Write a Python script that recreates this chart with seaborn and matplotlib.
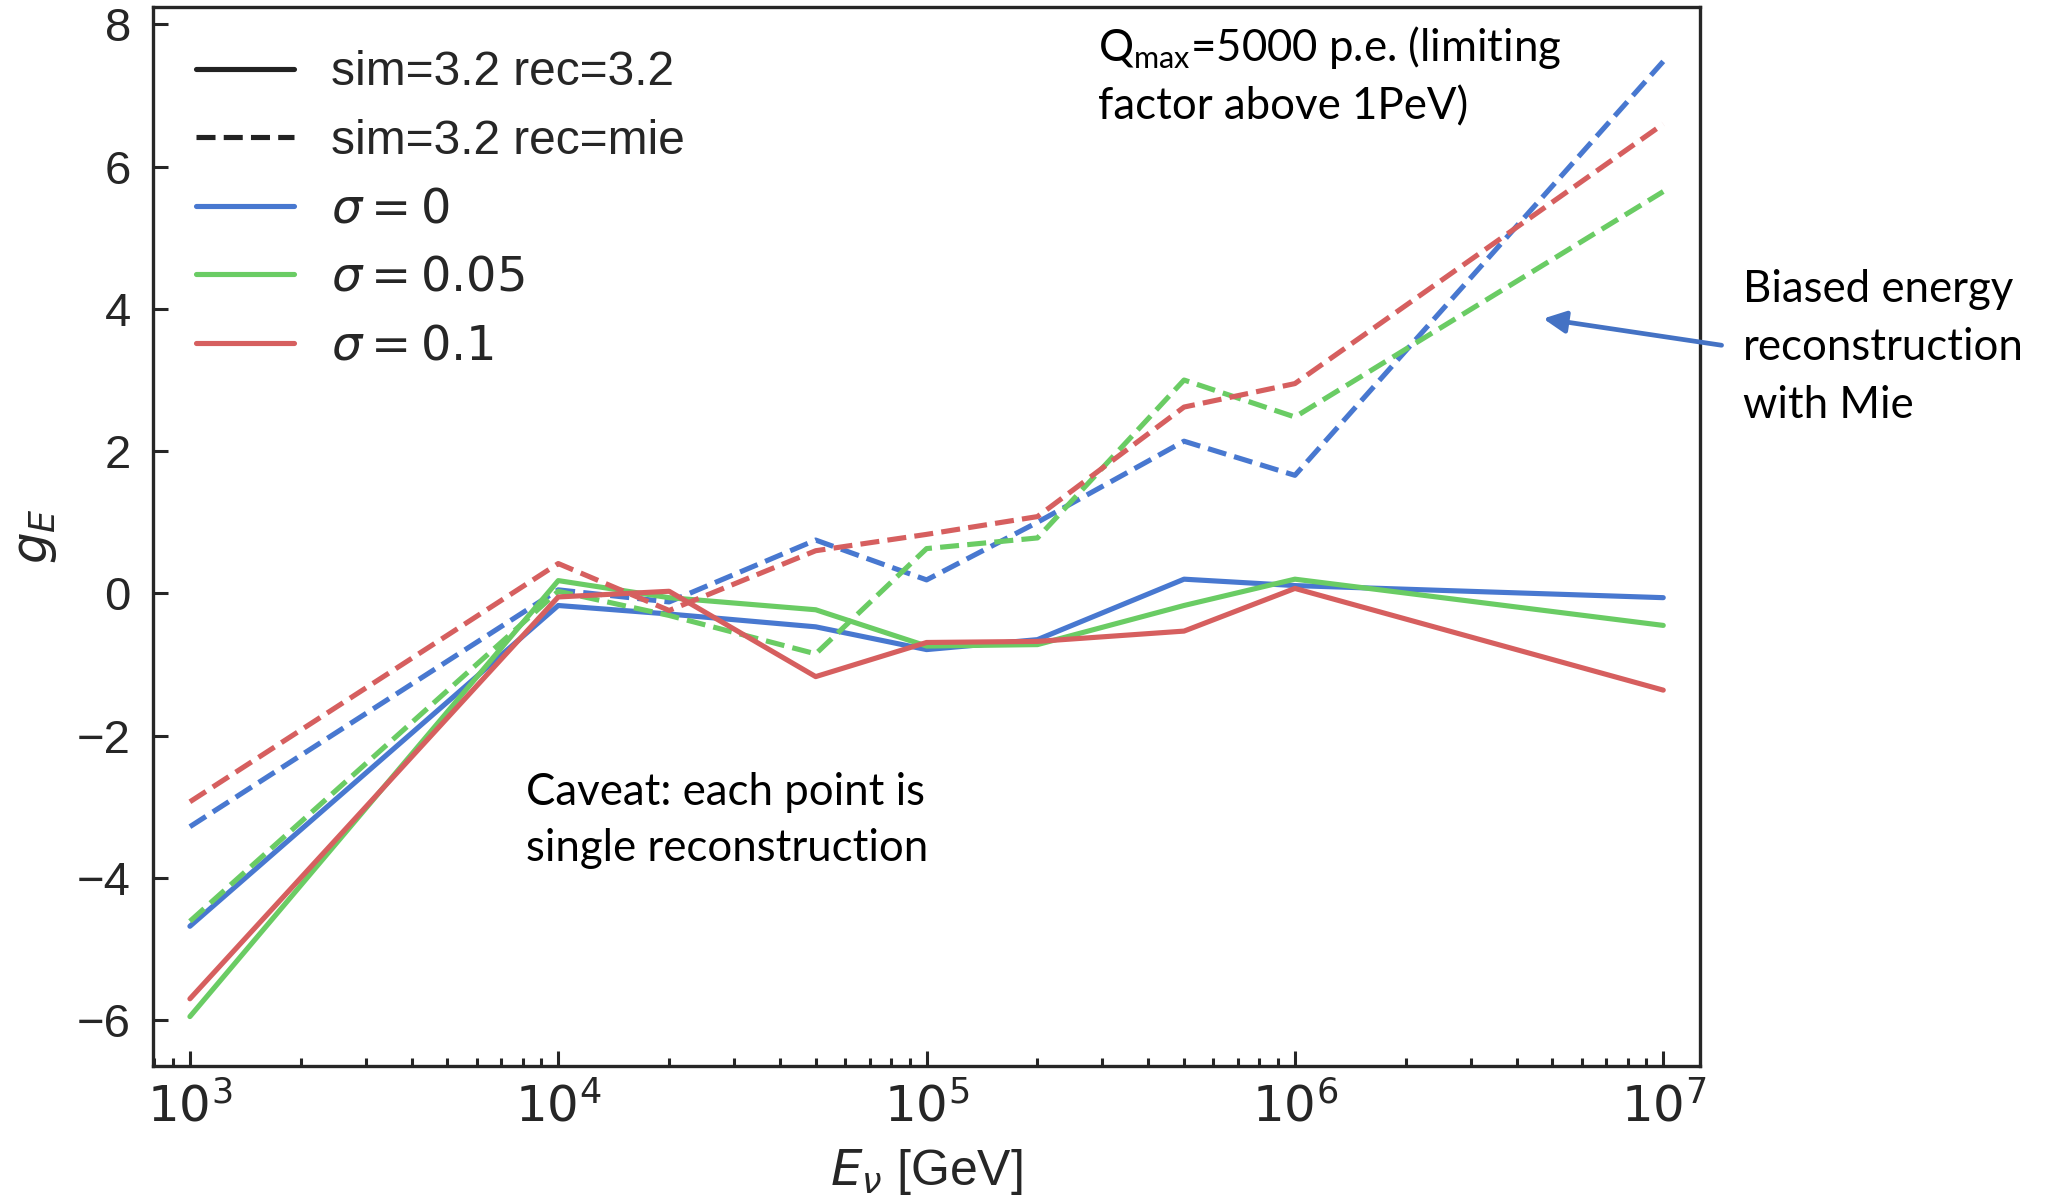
import numpy as np
import pandas as pd
import matplotlib
matplotlib.use("Agg")
import matplotlib.pyplot as plt
import seaborn as sns
from matplotlib.lines import Line2D
from matplotlib.ticker import FuncFormatter, NullFormatter

# ---------------- data ----------------
energy = [1e3, 1e4, 2e4, 5e4, 1e5, 2e5, 5e5, 1e6, 1e7]
sigma_labels = ["0", "0.05", "0.1"]
rec_labels = ["3.2", "mie"]

rec32_s0 = [-4.68, -0.17, -0.29, -0.47, -0.79, -0.65, 0.20, 0.11, -0.06]
rec32_s005 = [-5.95, 0.18, -0.06, -0.23, -0.74, -0.72, -0.17, 0.20, -0.45]
rec32_s01 = [-5.70, -0.05, 0.03, -1.17, -0.69, -0.675, -0.53, 0.07, -1.36]
mie_s0 = [-3.28, 0.05, -0.12, 0.75, 0.19, 1.00, 2.14, 1.66, 7.48]
mie_s005 = [-4.61, 0.03, -0.31, -0.85, 0.63, 0.78, 3.00, 2.48, 5.65]
mie_s01 = [-2.93, 0.42, -0.24, 0.60, 0.83, 1.08, 2.62, 2.95, 6.60]

legend_labels = ["sim=3.2 rec=3.2", "sim=3.2 rec=mie",
                 r"$\sigma = 0$", r"$\sigma = 0.05$", r"$\sigma = 0.1$"]

series = {
    ("3.2", "0"): rec32_s0, ("3.2", "0.05"): rec32_s005, ("3.2", "0.1"): rec32_s01,
    ("mie", "0"): mie_s0, ("mie", "0.05"): mie_s005, ("mie", "0.1"): mie_s01,
}
rows = []
for (rec, sig), vals in series.items():
    for e, v in zip(energy, vals):
        rows.append({"E": e, "g": v, "rec": rec, "sigma": sig})
df = pd.DataFrame(rows)

# ---------------- style ----------------
sns.set_theme(style="ticks")
plt.rcParams["font.family"] = ["Liberation Sans", "DejaVu Sans"]
plt.rcParams["mathtext.fontset"] = "dejavusans"

muted = sns.color_palette("muted")
palette = {"0": muted[0], "0.05": muted[2], "0.1": muted[3]}

W, H = 2052, 1204
fig = plt.figure(figsize=(W / 100, H / 100), dpi=100)
ax = fig.add_axes([0.0746, 0.1149, 0.7539, 0.879])

LW = 3.7
sns.lineplot(data=df, x="E", y="g", hue="sigma", style="rec",
             hue_order=sigma_labels, style_order=rec_labels,
             palette=palette, dashes={"3.2": "", "mie": (3.7, 1.6)},
             estimator=None, sort=True, lw=LW, legend=False, ax=ax)

ax.set_xscale("log")
ax.set_xlim(10 ** 2.9, 10 ** 7.1)
ax.set_ylim(-6.64, 8.24)
ax.set_yticks(np.arange(-6, 9, 2))
ax.xaxis.set_major_formatter(FuncFormatter(lambda v, p: r"$10^{%d}$" % int(round(np.log10(v)))))
ax.xaxis.set_minor_formatter(NullFormatter())

for sp in ax.spines.values():
    sp.set_visible(True)
    sp.set_linewidth(2.4)
    sp.set_color("#262626")

ax.tick_params(which="both", direction="in", colors="#262626", width=2.2)
ax.tick_params(axis="x", labelsize=36, pad=12)
ax.tick_params(axis="y", labelsize=34, pad=16)
ax.tick_params(which="major", length=11)
ax.tick_params(which="minor", length=6)
ax.tick_params(axis="y", which="minor", left=False)

ax.set_xlabel(r"$E_\nu$ [GeV]", fontsize=36, labelpad=11)
ax.set_ylabel(r"$g_E$", fontsize=36, labelpad=13)

# legend
handles = [
    Line2D([], [], color="#222222", lw=LW, ls="-", solid_capstyle="round"),
    Line2D([], [], color="#222222", lw=LW, ls="--"),
    Line2D([], [], color=palette["0"], lw=LW, solid_capstyle="round"),
    Line2D([], [], color=palette["0.05"], lw=LW, solid_capstyle="round"),
    Line2D([], [], color=palette["0.1"], lw=LW, solid_capstyle="round"),
]
ax.legend(handles, legend_labels, loc="upper left", frameon=False,
          fontsize=34.5, handlelength=2.05, handletextpad=0.76,
          labelspacing=0.49, borderaxespad=0.5, borderpad=0.4)

# annotations
def fx(px):
    return px / W

def fy(py):
    return 1 - py / H

txt_kw = dict(family=["Lato", "DejaVu Sans"], fontsize=31.5, color="black",
              linespacing=1.46, va="top", ha="left")
fig.text(fx(1098), fy(24), "Q$_\\mathregular{max}$=5000 p.e. (limiting\nfactor above 1PeV)", **txt_kw)
fig.text(fx(526), fy(772), "Caveat: each point is\nsingle reconstruction", **txt_kw)
fig.text(fx(1743), fy(269), "Biased energy\nreconstruction\nwith Mie",
         **{**txt_kw, "linespacing": 1.52})

ax.annotate("", xy=(4.72e6, 3.864), xytext=(1.44e7, 3.489),
            xycoords="data", textcoords="data", annotation_clip=False,
            arrowprops=dict(arrowstyle="-|>,head_length=0.45,head_width=0.22",
                            mutation_scale=30, lw=3.4, color="#4472c4",
                            shrinkA=0, shrinkB=0))

fig.savefig("out.png", dpi=100)
